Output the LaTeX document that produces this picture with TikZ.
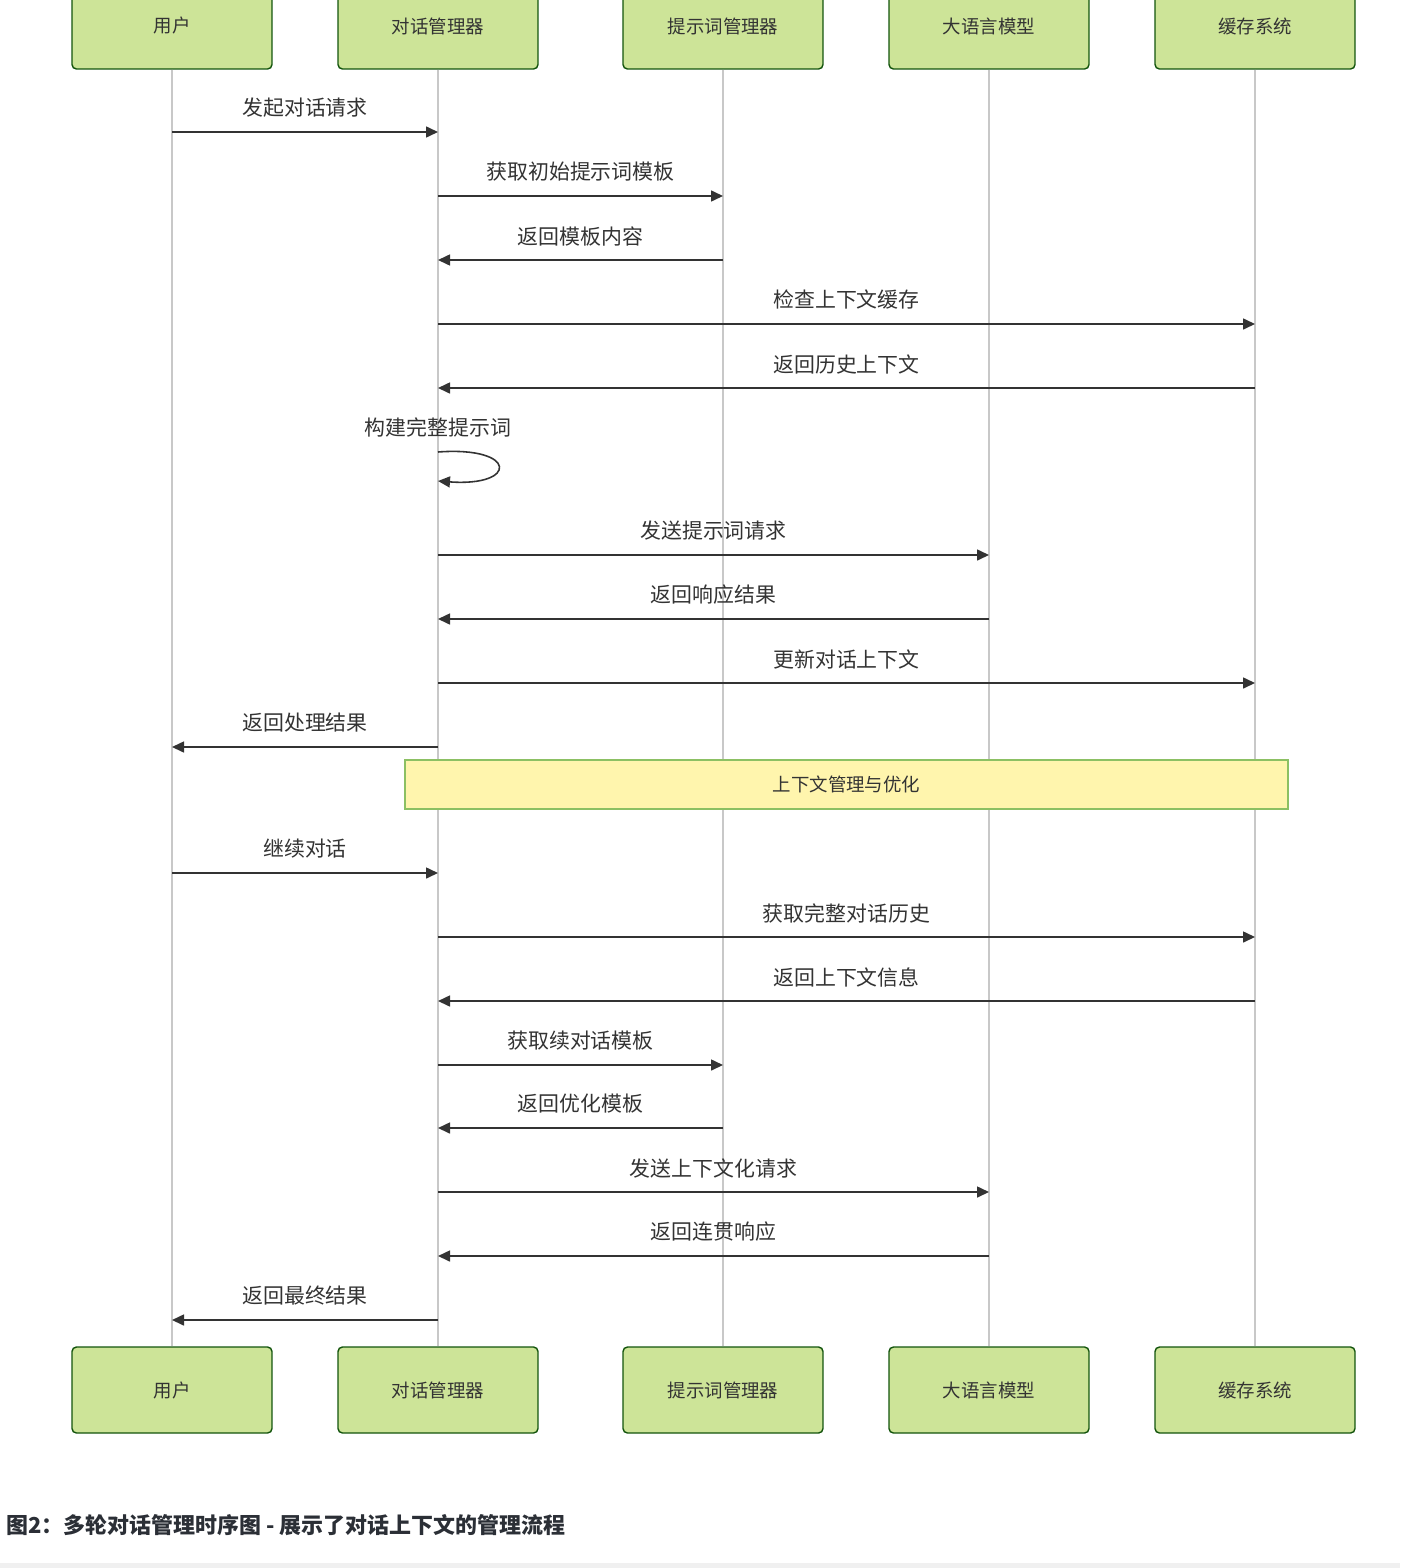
\documentclass[tikz,border=0pt]{standalone}
\usepackage{fontspec}
\setmainfont{Noto Sans CJK SC}
\usepackage{tikz}
\usetikzlibrary{arrows.meta, positioning, calc}
\usepackage{xcolor}
\definecolor{actorfill}{HTML}{CDE498}
\definecolor{actordraw}{HTML}{13540C}
\definecolor{notefill}{HTML}{FFF5AD}
\definecolor{notedraw}{HTML}{8CC063}
\definecolor{msgline}{HTML}{333333}
\definecolor{lifegray}{HTML}{C8C8C8}
\definecolor{captext}{HTML}{2B2F36}

\begin{document}
\begin{tikzpicture}[
    x=0.02cm, y=-0.02cm,
    every node/.style={text=msgline},
    actor/.style={draw=actordraw, fill=actorfill, rounded corners=2.5pt, line width=0.8pt, minimum width=4cm, minimum height=1.72cm, font=\fontsize{10.5}{12}\selectfont},
    note/.style={draw=notedraw, fill=notefill, line width=0.7pt, minimum width=17.66cm, minimum height=0.98cm, font=\fontsize{10.5}{12}\selectfont},
    lifeline/.style={draw=lifegray, line width=0.6pt},
    msg/.style={-{Triangle[length=0.24cm, width=0.22cm]}, draw=msgline, line width=0.9pt},
    lbl/.style={midway, yshift=0.48cm, font=\fontsize{11.9}{13}\selectfont}
]
    \clip (0,0) rectangle (1400,1568);
    \useasboundingbox (0,0) rectangle (1400,1568);

    % Participants (top)
    \node[actor] (user_t) at (172,26) {用户};
    \node[actor] (mgr_t) at (438,26) {对话管理器};
    \node[actor] (prompt_t) at (723,26) {提示词管理器};
    \node[actor] (llm_t) at (989,26) {大语言模型};
    \node[actor] (cache_t) at (1255,26) {缓存系统};

    % Participants (bottom)
    \node[actor] (user_b) at (172,1390) {用户};
    \node[actor] (mgr_b) at (438,1390) {对话管理器};
    \node[actor] (prompt_b) at (723,1390) {提示词管理器};
    \node[actor] (llm_b) at (989,1390) {大语言模型};
    \node[actor] (cache_b) at (1255,1390) {缓存系统};

    % Lifelines
    \draw[lifeline] (user_t) -- (user_b);
    \draw[lifeline] (mgr_t) -- (mgr_b);
    \draw[lifeline] (prompt_t) -- (prompt_b);
    \draw[lifeline] (llm_t) -- (llm_b);
    \draw[lifeline] (cache_t) -- (cache_b);

    % First round
    \draw[msg] (user_t |- 0,132) -- node[lbl] {发起对话请求} (mgr_t |- 0,132);
    \draw[msg] (mgr_t |- 0,196) -- node[lbl] {获取初始提示词模板} (prompt_t |- 0,196);
    \draw[msg] (prompt_t |- 0,260) -- node[lbl] {返回模板内容} (mgr_t |- 0,260);
    \draw[msg] (mgr_t |- 0,324) -- node[lbl] {检查上下文缓存} (cache_t |- 0,324);
    \draw[msg] (cache_t |- 0,388) -- node[lbl] {返回历史上下文} (mgr_t |- 0,388);
    \node[font=\fontsize{11.9}{13}\selectfont] (buildlbl) at (438,427) {构建完整提示词};
    \draw[msg] (mgr_t |- 0,452) .. controls +(80,-6) and +(80,6) .. (mgr_t |- 0,481);
    \draw[msg] (mgr_t |- 0,555) -- node[lbl] {发送提示词请求} (llm_t |- 0,555);
    \draw[msg] (llm_t |- 0,619) -- node[lbl] {返回响应结果} (mgr_t |- 0,619);
    \draw[msg] (mgr_t |- 0,683) -- node[lbl] {更新对话上下文} (cache_t |- 0,683);
    \draw[msg] (mgr_t |- 0,747) -- node[lbl] {返回处理结果} (user_t |- 0,747);

    % Note
    \node[note] (ctxnote) at (846.5,784.5) {上下文管理与优化};

    % Second round
    \draw[msg] (user_t |- 0,873) -- node[lbl] {继续对话} (mgr_t |- 0,873);
    \draw[msg] (mgr_t |- 0,937) -- node[lbl] {获取完整对话历史} (cache_t |- 0,937);
    \draw[msg] (cache_t |- 0,1001) -- node[lbl] {返回上下文信息} (mgr_t |- 0,1001);
    \draw[msg] (mgr_t |- 0,1065) -- node[lbl] {获取续对话模板} (prompt_t |- 0,1065);
    \draw[msg] (prompt_t |- 0,1128) -- node[lbl] {返回优化模板} (mgr_t |- 0,1128);
    \draw[msg] (mgr_t |- 0,1192) -- node[lbl] {发送上下文化请求} (llm_t |- 0,1192);
    \draw[msg] (llm_t |- 0,1256) -- node[lbl] {返回连贯响应} (mgr_t |- 0,1256);
    \draw[msg] (mgr_t |- 0,1320) -- node[lbl] {返回最终结果} (user_t |- 0,1320);

    % Caption
    \node[anchor=west, inner sep=0pt, text=captext, font=\fontsize{12.5}{14}\selectfont\bfseries] (caption) at (6,1525) {图2：多轮对话管理时序图 - 展示了对话上下文的管理流程};
    \fill[gray!12] (0,1563) rectangle (1400,1568);
\end{tikzpicture}
\end{document}
